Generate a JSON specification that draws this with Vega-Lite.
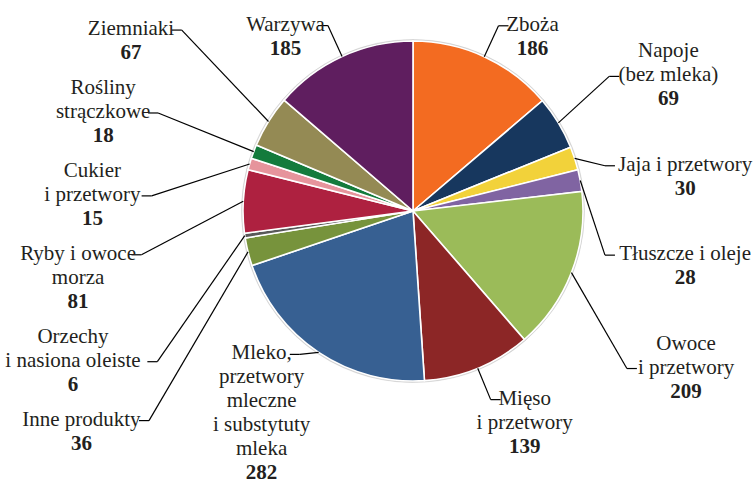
{
  "$schema": "https://vega.github.io/schema/vega-lite/v6.json",
  "width": 754,
  "height": 492,
  "padding": 0,
  "autosize": {"type": "none"},
  "background": "white",
  "config": {"view": {"stroke": null}},
  "data": {
    "values": [
      {"order": 1, "label": "Zboża", "value": 186},
      {"order": 2, "label": "Napoje\n(bez mleka)", "value": 69},
      {"order": 3, "label": "Jaja i przetwory", "value": 30},
      {"order": 4, "label": "Tłuszcze i oleje", "value": 28},
      {"order": 5, "label": "Owoce\ni przetwory", "value": 209},
      {"order": 6, "label": "Mięso\ni przetwory", "value": 139},
      {"order": 7, "label": "Mleko,\nprzetwory\nmleczne\ni substytuty\nmleka", "value": 282},
      {"order": 8, "label": "Inne produkty", "value": 36},
      {"order": 9, "label": "Orzechy\ni nasiona oleiste", "value": 6},
      {"order": 10, "label": "Ryby i owoce\nmorza", "value": 81},
      {"order": 11, "label": "Cukier\ni przetwory", "value": 15},
      {"order": 12, "label": "Rośliny\nstrączkowe", "value": 18},
      {"order": 13, "label": "Ziemniaki", "value": 67},
      {"order": 14, "label": "Warzywa", "value": 185}
    ]
  },
  "transform": [
    {"window": [{"op": "sum", "field": "value", "as": "cum"}], "sort": [{"field": "order"}], "frame": [null, 0]},
    {"joinaggregate": [{"op": "sum", "field": "value", "as": "total"}]},
    {"calculate": "(datum.cum - datum.value/2)/datum.total*2*PI", "as": "mid"},
    {"calculate": "split(datum.label, '\\n')", "as": "lines"},
    {"calculate": "length(datum.lines)", "as": "nL"},
    {"calculate": "sin(datum.mid) >= 0 ? 1 : -1", "as": "s"},
    {"calculate": "cos(datum.mid) >= 0", "as": "up"},
    {"calculate": "abs(sin(datum.mid)) < 0.6 ? 'tb' : (datum.s > 0 ? 'R' : 'L')", "as": "grp"},
    {"calculate": "[length(datum.lines[0]), length(datum.lines[1] || ''), length(datum.lines[2] || ''), length(datum.lines[3] || ''), length(datum.lines[4] || '')]", "as": "lens"},
    {"calculate": "max(datum.lens[0], datum.lens[1], datum.lens[2], datum.lens[3], datum.lens[4])", "as": "lmax"},
    {"calculate": "datum.grp == 'tb' ? (datum.up ? datum.nL - 1 : 0) : indexof(datum.lens, datum.lmax)", "as": "k"},
    {"calculate": "(datum.k + 0.5)*0.1412", "as": "a"},
    {"calculate": "(datum.nL - datum.k + 0.5)*0.1412", "as": "b"},
    {"calculate": "cos(datum.mid)", "as": "y0"},
    {"window": [{"op": "lag", "field": "b", "as": "prevB"}, {"op": "row_number", "as": "rn"}], "groupby": ["grp"], "sort": [{"field": "y0", "order": "descending"}]},
    {"calculate": "datum.prevB == null ? 0 : datum.prevB + datum.a + 0.014", "as": "gap"},
    {"window": [{"op": "sum", "field": "gap", "as": "G"}], "groupby": ["grp"], "sort": [{"field": "y0", "order": "descending"}], "frame": [null, 0]},
    {"window": [{"op": "max", "field": "G", "as": "Gtot"}, {"op": "last_value", "field": "b", "as": "bLast"}, {"op": "first_value", "field": "a", "as": "aFirst"}, {"op": "count", "as": "n"}], "groupby": ["grp"], "sort": [{"field": "y0", "order": "descending"}], "frame": [null, null]},
    {"calculate": "max(0, (1.21 - datum.aFirst) - (-1.62 + datum.bLast) - datum.Gtot)", "as": "slack"},
    {"calculate": "(1.21 - datum.aFirst) - 0.15*datum.slack - datum.G - (datum.rn - 1)*0.5*datum.slack/max(datum.n - 1, 1)", "as": "yc"},
    {"calculate": "datum.grp == 'tb' ? 1.2*sin(datum.mid) : (datum.s > 0 ? 1.35 : 1.6)*sin(datum.mid)", "as": "ex0"},
    {"calculate": "datum.grp == 'tb' ? clamp(1.2*cos(datum.mid), -1.62 + datum.b, 1.21 - datum.a) : datum.yc", "as": "ey"},
    {"calculate": "datum.lens[datum.k]*0.0494", "as": "wc"},
    {"calculate": "datum.lmax*0.0494", "as": "wmax"},
    {"calculate": "datum.s > 0 ? min(datum.ex0, 1.996 - 0.0764 - datum.wc/2 - datum.wmax/2) : max(datum.ex0, -2.42 + 0.0764 + datum.wc/2 + datum.wmax/2)", "as": "ex"},
    {"calculate": "datum.ex + datum.s*0.0588", "as": "tx"},
    {"calculate": "datum.tx + datum.s*(0.0176 + datum.wc/2)", "as": "cx"},
    {"calculate": "datum.ey + (datum.k + 0.5)*0.1412", "as": "ty"},
    {"calculate": "datum.ty - datum.nL*0.1412", "as": "vy"},
    {"calculate": "sin(datum.mid)", "as": "px"},
    {"calculate": "cos(datum.mid)", "as": "py"}
  ],
  "layer": [
    {
      "mark": {"type": "arc", "outerRadius": 171.5, "color": "#cfcfcf", "stroke": "#cfcfcf", "strokeWidth": 0.5},
      "encoding": {
        "theta": {"field": "value", "type": "quantitative", "stack": true},
        "order": {"field": "order", "type": "quantitative"},
        "x": {"datum": 0, "type": "quantitative", "scale": {"domain": [-2.4294, 2.0059], "nice": false, "zero": false}, "axis": null},
        "y": {"datum": 0, "type": "quantitative", "scale": {"domain": [-1.6529, 1.2412], "nice": false, "zero": false}, "axis": null}
      }
    },
    {
      "mark": {"type": "arc", "outerRadius": 170, "stroke": "white", "strokeWidth": 1.6},
      "encoding": {
        "theta": {"field": "value", "type": "quantitative", "stack": true},
        "order": {"field": "order", "type": "quantitative"},
        "x": {"datum": 0, "type": "quantitative", "scale": {"domain": [-2.4294, 2.0059], "nice": false, "zero": false}, "axis": null},
        "y": {"datum": 0, "type": "quantitative", "scale": {"domain": [-1.6529, 1.2412], "nice": false, "zero": false}, "axis": null},
        "color": {
          "field": "label", "type": "nominal", "legend": null,
          "scale": {
            "domain": ["Zboża", "Napoje\n(bez mleka)", "Jaja i przetwory", "Tłuszcze i oleje", "Owoce\ni przetwory", "Mięso\ni przetwory", "Mleko,\nprzetwory\nmleczne\ni substytuty\nmleka", "Inne produkty", "Orzechy\ni nasiona oleiste", "Ryby i owoce\nmorza", "Cukier\ni przetwory", "Rośliny\nstrączkowe", "Ziemniaki", "Warzywa"],
            "range": ["#F36B21", "#17375E", "#F2D23A", "#8064A2", "#9BBB59", "#8C2626", "#376092", "#77933C", "#595959", "#AE2140", "#E6949C", "#147B3C", "#948A54", "#5F1E5F"]
          }
        }
      }
    },
    {
      "mark": {"type": "rule", "color": "black", "strokeWidth": 1.2},
      "encoding": {
        "x": {"field": "px", "type": "quantitative", "scale": {"domain": [-2.4294, 2.0059], "nice": false, "zero": false}, "axis": null},
        "y": {"field": "py", "type": "quantitative", "scale": {"domain": [-1.6529, 1.2412], "nice": false, "zero": false}, "axis": null},
        "x2": {"field": "ex"},
        "y2": {"field": "ey"}
      }
    },
    {
      "mark": {"type": "rule", "color": "black", "strokeWidth": 1.2},
      "encoding": {
        "x": {"field": "ex", "type": "quantitative", "scale": {"domain": [-2.4294, 2.0059], "nice": false, "zero": false}, "axis": null},
        "y": {"field": "ey", "type": "quantitative", "scale": {"domain": [-1.6529, 1.2412], "nice": false, "zero": false}, "axis": null},
        "x2": {"field": "tx"},
        "y2": {"field": "ey"}
      }
    },
    {
      "mark": {"type": "text", "align": "center", "baseline": "top", "font": "Liberation Serif, Times New Roman, DejaVu Serif, serif", "fontSize": 21, "lineHeight": 24, "lineBreak": "\n", "color": "#231F20"},
      "encoding": {
        "x": {"field": "cx", "type": "quantitative", "scale": {"domain": [-2.4294, 2.0059], "nice": false, "zero": false}, "axis": null},
        "y": {"field": "ty", "type": "quantitative", "scale": {"domain": [-1.6529, 1.2412], "nice": false, "zero": false}, "axis": null},
        "text": {"field": "label", "type": "nominal"}
      }
    },
    {
      "mark": {"type": "text", "align": "center", "baseline": "top", "font": "Liberation Serif, Times New Roman, DejaVu Serif, serif", "fontSize": 21, "fontWeight": "bold", "color": "#231F20"},
      "encoding": {
        "x": {"field": "cx", "type": "quantitative", "scale": {"domain": [-2.4294, 2.0059], "nice": false, "zero": false}, "axis": null},
        "y": {"field": "vy", "type": "quantitative", "scale": {"domain": [-1.6529, 1.2412], "nice": false, "zero": false}, "axis": null},
        "text": {"field": "value", "type": "quantitative", "format": "d"}
      }
    }
  ]
}
